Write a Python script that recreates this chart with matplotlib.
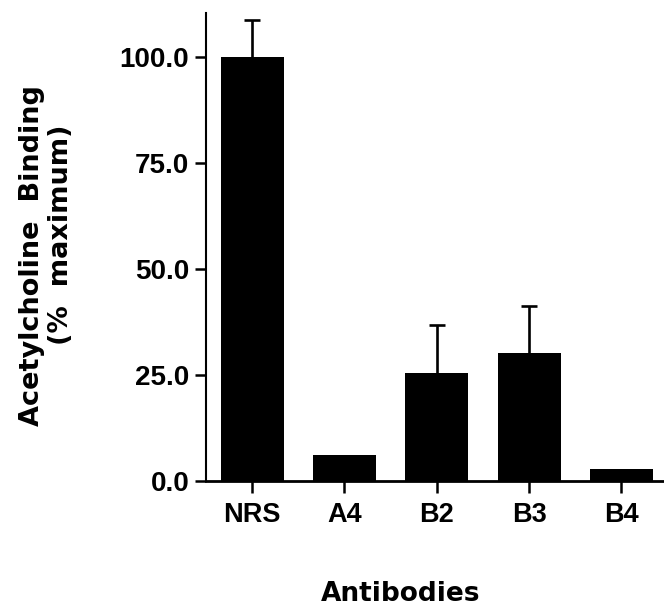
import matplotlib
matplotlib.use("Agg")
import matplotlib.pyplot as plt
import numpy as np

categories = ["NRS", "A4", "B2", "B3", "B4"]
values = [100.0, 6.1, 25.5, 30.3, 2.8]
err_upper = [8.7, 0.0, 11.3, 11.0, 0.0]
yticks = [0.0, 25.0, 50.0, 75.0, 100.0]
ytick_labels = ["0.0", "25.0", "50.0", "75.0", "100.0"]

plt.rcParams['font.family'] = ['Liberation Sans', 'DejaVu Sans']
plt.rcParams['font.weight'] = 'bold'

fig = plt.figure(figsize=(6.64, 6.06), dpi=100)
ax = fig.add_axes([206/664, 1-481/606, (663-206)/664, (481-13)/606])

x = np.arange(len(categories))
ax.bar(x, values, width=0.68, color='black', zorder=2)
has_err = np.array(err_upper) > 0
xe = x[has_err]
ve = np.array(values)[has_err]
ee = np.array(err_upper)[has_err]
_, caps, _ = ax.errorbar(xe, ve, yerr=[np.zeros_like(ee), ee], fmt='none', ecolor='black',
                         elinewidth=1.9, capsize=5.8, capthick=1.9, zorder=1)
if len(caps) == 2:
    caps[0].set_visible(False)

ax.set_xlim(-0.5, 4.45)
ax.set_ylim(0, 110.4)
ax.set_xticks(x)
ax.set_xticklabels(categories, fontsize=19.5, fontweight='bold')
ax.set_yticks(yticks)
ax.set_yticklabels(ytick_labels, fontsize=20, fontweight='bold')

for s in ['top', 'right']:
    ax.spines[s].set_visible(False)
ax.spines['left'].set_linewidth(1.5)
ax.spines['bottom'].set_linewidth(2.0)
ax.tick_params(axis='y', direction='out', length=8, width=1.8, pad=4)
ax.tick_params(axis='x', direction='out', length=8.5, width=1.8, pad=6.5)

fig.text(32/664, 1-256/606, "Acetylcholine  Binding", rotation=90,
         ha='center', va='center', fontsize=19.5, fontweight='bold',
         family='DejaVu Sans')
fig.text(61/664, 1-235/606, "(%  maximum)", rotation=90,
         ha='center', va='center', fontsize=19.5, fontweight='bold',
         family='DejaVu Sans')
fig.text(401/664, 1-594/606, "Antibodies", ha='center', va='center',
         fontsize=19, fontweight='bold', family='DejaVu Sans')

fig.savefig("out.png", dpi=100)
